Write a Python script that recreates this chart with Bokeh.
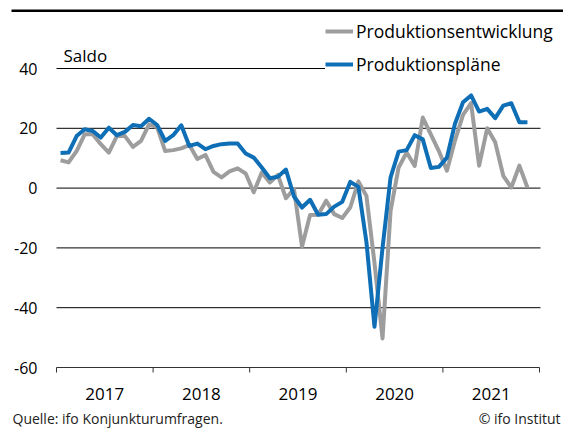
from bokeh.plotting import figure
from bokeh.models import Range1d, Legend, LegendItem
from bokeh.embed import file_html
from bokeh.resources import INLINE
from bokeh.core.properties import value

# ---- data (monthly balances, Jan 2017 - Nov 2021) ----
start_year = 2017
entwicklung = [9.3, 8.6, 12.4, 18.0, 18.0, 14.7, 11.9, 17.4, 17.4, 13.8, 15.8, 21.3,
               20.4, 12.4, 12.7, 13.3, 14.4, 9.7, 11.1, 5.4, 3.6, 5.6, 6.6, 4.9,
               -1.4, 5.2, 1.9, 4.4, -3.4, -0.3, -19.5, -9.0, -8.9, -4.2, -8.7, -10.0,
               -6.4, 2.2, -2.6, -25.0, -50.3, -7.6, 6.9, 11.9, 7.4, 23.6, 18.0, 12.4,
               5.8, 15.9, 24.5, 28.4, 7.5, 20.0, 15.3, 4.1, 0.2, 7.5, 0.2]
plaene = [11.7, 11.9, 17.4, 19.7, 19.1, 16.9, 20.2, 17.7, 18.8, 21.1, 20.7, 23.2,
          21.1, 15.8, 17.7, 21.0, 14.1, 14.9, 13.0, 14.1, 14.7, 14.9, 14.9, 11.6,
          10.2, 6.9, 3.3, 3.8, 6.2, -2.8, -6.5, -3.9, -8.9, -8.7, -6.2, -4.6,
          2.1, 0.4, -18.0, -46.4, -20.0, 3.6, 12.2, 12.7, 17.7, 16.3, 6.7, 7.1,
          10.2, 21.5, 28.7, 31.0, 25.6, 26.5, 23.4, 27.6, 28.4, 22.0, 22.0]
years = [2017, 2018, 2019, 2020, 2021]
year_labels = ["2017", "2018", "2019", "2020", "2021"]
y_ticks = [-60, -40, -20, 0, 20, 40]
y_tick_labels = ["-60", "-40", "-20", "0", "20", "40"]
series_names = ["Produktionsentwicklung", "Produktionspläne"]
unit_label = "Saldo"
source_note = "Quelle: ifo Konjunkturumfragen."
copyright_note = "© ifo Institut"

x = [start_year + (i + 0.5) / 12 for i in range(len(plaene))]

FONT = "Open Sans"
GRAY = "#9D9D9D"
BLUE = "#0F6FB6"
W, H = 563, 429

# pixel geometry of the plotting area (frame covers whole canvas)
X0_PX, X1_PX = 56.0, 539.0          # 2017 .. 2022
Y40_PX, YM60_PX = 68.0, 367.0       # 40 .. -60
px_per_year = (X1_PX - X0_PX) / (years[-1] + 1 - years[0])
px_per_unit = (YM60_PX - Y40_PX) / 100.0


def xd(px):
    return years[0] + (px - X0_PX) / px_per_year


def yd(py):
    return 40 + (Y40_PX - py) / px_per_unit


p = figure(width=W, height=H, x_range=Range1d(xd(0), xd(W)), y_range=Range1d(yd(H), yd(0)),
           toolbar_location=None, output_backend="svg", min_border=0,
           x_axis_type=None, y_axis_type=None, outline_line_color=None)
p.grid.visible = False

# horizontal grid lines (with the -60 line as x-axis line)
x_end = years[-1] + 1
p.segment(x0=[years[0]] * (len(y_ticks) - 1), x1=[xd(540)] * (len(y_ticks) - 1),
          y0=y_ticks[1:], y1=y_ticks[1:], line_color="black", line_width=1)
p.segment(x0=[years[0]], x1=[x_end], y0=[y_ticks[0]], y1=[y_ticks[0]],
          line_color="#333333", line_width=1)

# x tick marks at year boundaries
tick_x = years + [x_end]
p.segment(x0=tick_x, x1=tick_x, y0=[y_ticks[0]] * len(tick_x),
          y1=[yd(YM60_PX + 5)] * len(tick_x), line_color="#333333", line_width=1)

# year labels centred in each year
p.text(x=[y + 0.5 for y in years], y=[yd(393)] * len(years), text=year_labels,
       text_font=value(FONT), text_font_size="17px", text_align="center",
       text_baseline="middle", text_color="black")

# y tick labels
p.text(x=[xd(37)] * len(y_ticks), y=y_ticks, text=y_tick_labels,
       text_font=value(FONT), text_font_size="16px", text_align="right",
       text_baseline="middle", text_color="black")

# data lines
r1 = p.line(x, entwicklung, line_width=4, line_color=GRAY, line_join="round")
r2 = p.line(x, plaene, line_width=4, line_color=BLUE, line_join="round")

# unit label
p.text(x=[xd(63)], y=[yd(55)], text=[unit_label], text_font=value(FONT),
       text_font_size="17px", text_baseline="alphabetic", text_align="left", text_color="black")

# top rule
p.segment(x0=[xd(11)], x1=[xd(W)], y0=[yd(10.3)], y1=[yd(10.3)],
          line_color="black", line_width=2.5)

# footer
p.text(x=[xd(12)], y=[yd(418)], text=[source_note], text_font=value(FONT),
       text_font_size="14px", text_baseline="alphabetic", text_align="left", text_color="#222222")
p.text(x=[xd(560)], y=[yd(418)], text=[copyright_note], text_font=value(FONT),
       text_font_size="14px", text_baseline="alphabetic", text_align="right", text_color="#222222")

legend = Legend(items=[LegendItem(label=series_names[0], renderers=[r1]),
                       LegendItem(label=series_names[1], renderers=[r2])],
                location=(325, H - 76), glyph_width=28, glyph_height=20, label_height=20,
                label_standoff=3, spacing=9, padding=10, margin=0,
                border_line_color=None, background_fill_color="white", background_fill_alpha=1,
                label_text_font=FONT, label_text_font_size="17.5px", label_text_color="black")
p.add_layout(legend)

open("out.html", "w").write(file_html(p, INLINE))
